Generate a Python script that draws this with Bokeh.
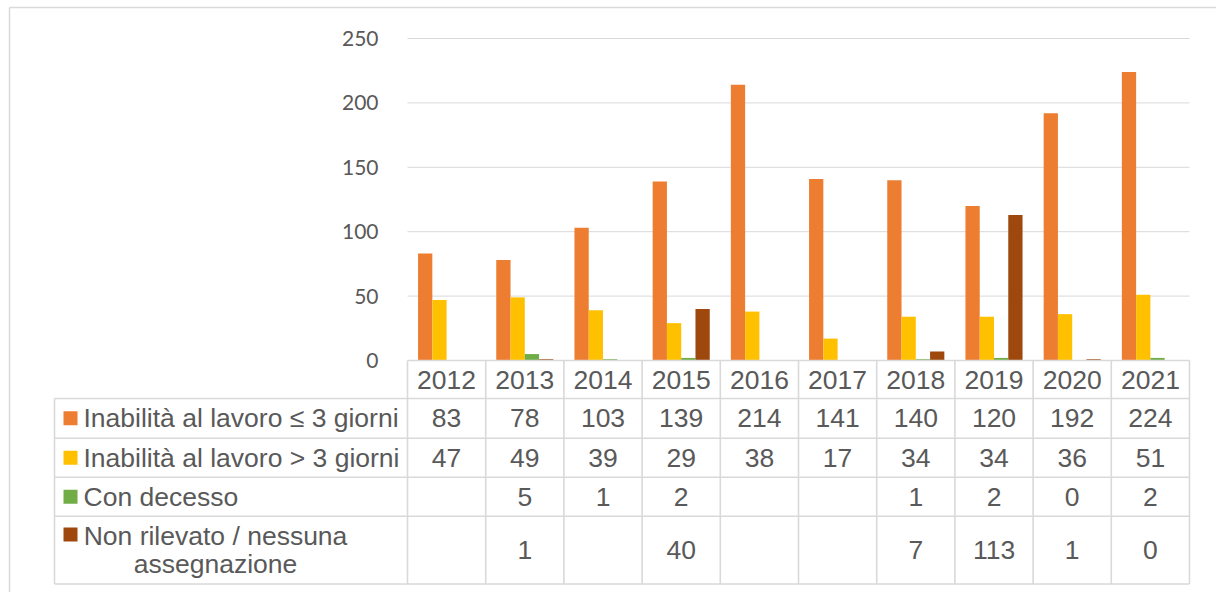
from bokeh.plotting import figure
from bokeh.models import Range1d, FixedTicker, LinearAxis
from bokeh.embed import file_html
from bokeh.resources import INLINE
from bokeh.core.properties import value

# ---- data ----
years = ["2012", "2013", "2014", "2015", "2016", "2017", "2018", "2019", "2020", "2021"]
series_names = ["Inabilità al lavoro ≤ 3 giorni",
                "Inabilità al lavoro > 3 giorni",
                "Con decesso",
                "Non rilevato / nessuna assegnazione"]
inab_le3 = [83, 78, 103, 139, 214, 141, 140, 120, 192, 224]
inab_gt3 = [47, 49, 39, 29, 38, 17, 34, 34, 36, 51]
decesso = [None, 5, 1, 2, None, None, 1, 2, 0, 2]
non_rilevato = [None, 1, None, 40, None, None, 7, 113, 1, 0]
y_ticks = [0, 50, 100, 150, 200, 250]

series = [inab_le3, inab_gt3, decesso, non_rilevato]
colors = ["#ED7D31", "#FFC000", "#70AD47", "#9E480E"]

GRID = "#d9d9d9"
TXT = "#595959"
W, H = 1216, 592
n = len(years)
# page layout (pixels): plot area spans x 407..1189, y 38 (=250) .. 360 (=0)
PX = (1189 - 407) / n
PY = (360 - 38) / 250.0

def xd(px):
    return -0.5 + (px - 407) / PX

def yd(py):
    return (360 - py) / PY

p = figure(width=W, height=H, x_range=Range1d(xd(0), xd(W)), y_range=Range1d(yd(H), yd(0)),
           output_backend="svg", toolbar_location=None,
           x_axis_location=None, y_axis_location=None, min_border=0)
p.outline_line_color = None
p.xgrid.visible = False
p.ygrid.visible = False

# y axis fixed at left edge of plot area
ax = LinearAxis(fixed_location=-0.5, ticker=FixedTicker(ticks=y_ticks), bounds=(0, 250))
ax.axis_line_color = None
ax.major_tick_line_color = None
ax.minor_tick_line_color = None
ax.major_label_text_font = "Lato"
ax.major_label_text_font_size = "21px"
ax.major_label_text_color = TXT
ax.major_label_standoff = 23
p.add_layout(ax, "left")

# gridlines
p.segment(x0=[-0.5] * len(y_ticks[1:]), x1=[n - 0.5] * len(y_ticks[1:]), y0=y_ticks[1:],
          y1=y_ticks[1:], line_color=GRID, line_width=1)

# outer chart border
p.segment(x0=[xd(9), xd(9)], x1=[xd(9), xd(W)], y0=[yd(H), yd(7)], y1=[yd(7), yd(7)],
          line_color=GRID, line_width=1.5)

# bars
bw = 0.1825
for k, (vals, col) in enumerate(zip(series, colors)):
    xs = [i + (k - 1.5) * bw for i, v in enumerate(vals) if v is not None]
    tops = [v for v in vals if v is not None]
    p.vbar(x=xs, top=tops, bottom=0, width=bw, fill_color=col, line_color=None)

# ---- data table ----
rows_px = [360, 398, 437.7, 476.7, 515.7, 583.5]
rows = [yd(v) for v in rows_px]
label_left = xd(54)
# horizontal lines
p.segment(x0=[-0.5] + [label_left] * 5, x1=[n - 0.5] * 6, y0=rows, y1=rows,
          line_color=GRID, line_width=1.6)
# vertical lines
vx = [i - 0.5 for i in range(n + 1)]
p.segment(x0=vx + [label_left], x1=vx + [label_left], y0=[rows[0]] * (n + 1) + [rows[1]],
          y1=[rows[-1]] * (n + 2), line_color=GRID, line_width=1.6)

FONT = value("Liberation Sans")
FS = "26.5px"
p.text(x=list(range(n)), y=[(rows[0] + rows[1]) / 2] * n, text=years, text_font=FONT,
       text_font_size=FS, text_color=TXT, text_align="center", text_baseline="middle")
centers = [(rows[r] + rows[r + 1]) / 2 for r in range(1, 5)]
for r, vals in enumerate(series):
    xs = [i for i, v in enumerate(vals) if v is not None]
    ts = [str(v) for v in vals if v is not None]
    p.text(x=xs, y=[centers[r]] * len(xs), text=ts, text_font=FONT, text_font_size=FS,
           text_color=TXT, text_align="center", text_baseline="middle")

# legend keys + row labels
mark_y = centers[:3] + [yd(534)]
p.rect(x=[xd(70)] * 4, y=mark_y, width=14, height=14, width_units="screen",
       height_units="screen", fill_color=colors, line_color=None)
p.text(x=[xd(83)] * 3, y=centers[:3], text=series_names[:3], text_font=FONT,
       text_font_size=FS, text_color=TXT, text_align="left", text_baseline="middle")
words = series_names[3].split(" ")
line1 = " ".join(words[:-1])
line2 = words[-1]
p.text(x=[xd(215)] * 2, y=[yd(535), yd(563)], text=[line1, line2], text_font=FONT,
       text_font_size=FS, text_color=TXT, text_align="center", text_baseline="middle")

open("out.html", "w").write(file_html(p, INLINE))
